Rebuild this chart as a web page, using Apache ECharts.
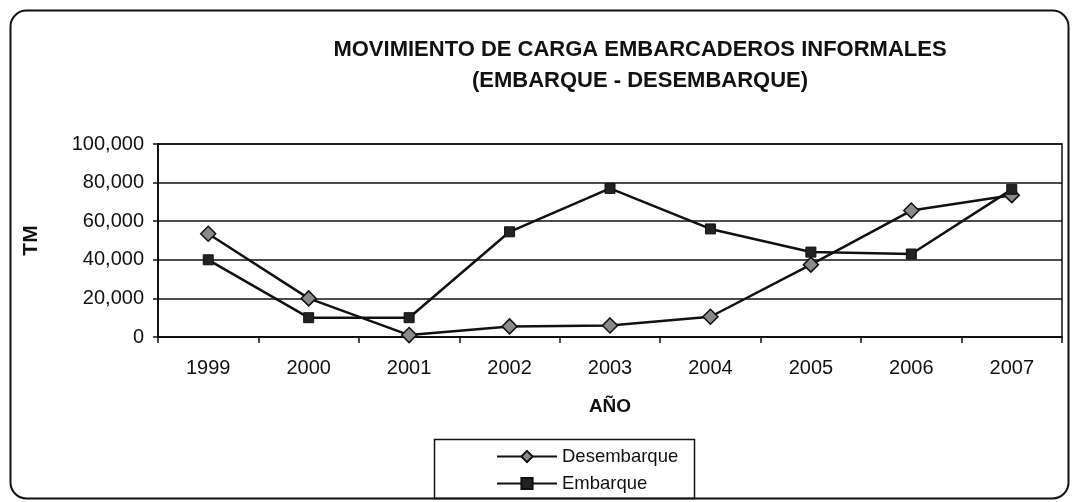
<!DOCTYPE html>
<html>
<head>
<meta charset="utf-8">
<script src="https://cdn.jsdelivr.net/npm/echarts@6/dist/echarts.min.js"></script>
<style>
html,body{margin:0;padding:0;background:#fff;}
#chart{width:1073px;height:502px;}
</style>
</head>
<body>
<div id="chart"></div>
<script>
const titleLine1 = 'MOVIMIENTO DE CARGA EMBARCADEROS INFORMALES';
const titleLine2 = '(EMBARQUE - DESEMBARQUE)';
const years = ['1999','2000','2001','2002','2003','2004','2005','2006','2007'];
const desembarque = [53500, 20000, 1000, 5500, 6000, 10500, 37500, 65500, 73500];
const embarque = [40000, 10000, 10000, 54500, 77000, 56000, 44000, 43000, 76500];
const yTicks = [0, 20000, 40000, 60000, 80000, 100000];

const FONT = 'Liberation Sans, Arial, sans-serif';
const legendText = {fontFamily: FONT, fontSize: 18.5, color: '#111'};
const chart = echarts.init(document.getElementById('chart'), null, {renderer:'canvas'});
chart.setOption({
  backgroundColor: '#fff',
  animation: false,
  title: {
    text: titleLine1 + '\n' + titleLine2,
    left: 635, top: 29, textAlign: 'center',
    textStyle: {fontFamily: FONT, fontWeight: 'bold', fontSize: 22, color: '#111', lineHeight: 31, align: 'center'}
  },
  graphic: [{
    type: 'rect', left: 8, top: 8, z: -1,
    shape: {width: 1058, height: 488, r: 16},
    style: {fill: 'none', stroke: '#111', lineWidth: 2}
  }, {
    type: 'rect', left: 432, top: 437, z: 5,
    shape: {width: 260, height: 59},
    style: {fill: 'none', stroke: '#111', lineWidth: 1.5}
  }],
  legend: [{
    left: 496, top: 447, padding: 0,
    itemWidth: 60, itemHeight: 14,
    textStyle: legendText,
    data: ['Desembarque']
  }, {
    left: 496, top: 474, padding: 0,
    itemWidth: 60, itemHeight: 14,
    textStyle: legendText,
    data: ['Embarque']
  }],
  grid: {left: 158, right: 11, top: 144, bottom: 165, show: true, borderColor: '#111', borderWidth: 1.5, backgroundColor: 'transparent'},
  xAxis: {
    type: 'category', data: years, boundaryGap: true,
    name: 'AÑO', nameLocation: 'middle', nameGap: 60,
    nameTextStyle: {fontFamily: FONT, fontWeight: 'bold', fontSize: 19, color: '#111'},
    axisLine: {lineStyle: {color: '#111', width: 2}},
    axisTick: {show: true, length: 6, inside: false, lineStyle: {color: '#111', width: 1.5}},
    axisLabel: {fontFamily: FONT, fontSize: 20, color: '#111', margin: 21}
  },
  yAxis: {
    type: 'value', min: 0, max: 100000, interval: 20000,
    name: 'TM', nameLocation: 'middle', nameGap: 116, nameRotate: 90,
    nameTextStyle: {fontFamily: FONT, fontWeight: 'bold', fontSize: 21, color: '#111'},
    axisLine: {show: true, lineStyle: {color: '#111', width: 2}},
    axisTick: {show: true, length: 5, lineStyle: {color: '#111', width: 1.5}},
    axisLabel: {fontFamily: FONT, fontSize: 20, color: '#111', margin: 14,
      formatter: v => yTicks.includes(v) ? v.toLocaleString('en-US') : ''},
    splitLine: {show: true, lineStyle: {color: '#111', width: 1.5}}
  },
  series: [
    {
      name: 'Desembarque', type: 'line', data: desembarque,
      symbol: 'diamond', symbolSize: 15, showAllSymbol: true,
      lineStyle: {color: '#111', width: 2.5},
      itemStyle: {color: '#8a8a8a', borderColor: '#111', borderWidth: 1.5}
    },
    {
      name: 'Embarque', type: 'line', data: embarque,
      symbol: 'rect', symbolSize: 10, showAllSymbol: true,
      lineStyle: {color: '#111', width: 2.5},
      itemStyle: {color: '#222', borderColor: '#111', borderWidth: 1}
    }
  ]
});
</script>
</body>
</html>
